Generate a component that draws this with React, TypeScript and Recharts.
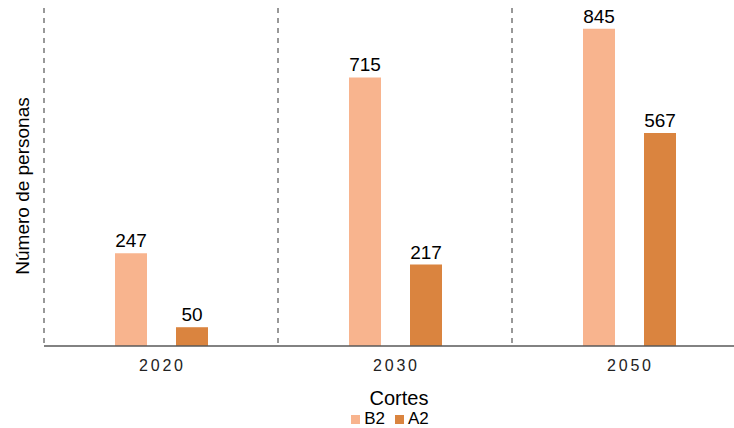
import React from 'react';
import { BarChart, Bar, XAxis, YAxis, CartesianGrid, Legend, LabelList } from 'recharts';

const categories = ['2020', '2030', '2050'];
const b2Values = [247, 715, 845];
const a2Values = [50, 217, 567];
const seriesNames = ['B2', 'A2'];
const seriesColors = ['#F8B48E', '#DA843F'];
const yDomain = [0, 900];
const xTitle = 'Cortes';
const yTitle = 'Número de personas';

const data = categories.map((c, i) => ({ corte: c, B2: b2Values[i], A2: a2Values[i] }));

const FONT = "'Liberation Sans', Arial, sans-serif";

const CategoryTick = (props: any) => {
  const { x, y, payload } = props;
  return (
    <text x={x + 1.4} y={y + 17} textAnchor="middle" fill="#222" fontSize={16} fontFamily={FONT} letterSpacing={2.8}>
      {payload.value}
    </text>
  );
};

const YTitle = (props: any) => {
  const vb = props.viewBox || {};
  const cx = (vb.x || 0) + 28.5;
  const cy = (vb.y || 0) + (vb.height || 0) / 2 + 9;
  return (
    <text x={cx} y={cy} transform={`rotate(-90 ${cx} ${cy})`} textAnchor="middle" fill="#000" fontSize={19} fontFamily={FONT}>
      {yTitle}
    </text>
  );
};

export default function App() {
  return (
    <div style={{ position: 'absolute', left: 0, top: 0, width: 734, height: 428, overflow: 'hidden', background: '#fff', fontFamily: FONT }}>
      <BarChart
        width={760}
        height={428}
        data={data}
        margin={{ top: 8, right: 14, left: 0, bottom: 0 }}
        barSize={32}
        barGap={29}
        barCategoryGap={0}
      >
        <CartesianGrid
          horizontal={false}
          stroke="#333"
          strokeDasharray="5 5"
          verticalCoordinatesGenerator={({ offset }: any) =>
            categories.map((_, i) => offset.left + (i * offset.width) / categories.length)
          }
        />
        <YAxis
          width={44}
          domain={yDomain}
          tick={false}
          axisLine={false}
          tickLine={false}
          label={{ content: YTitle }}
        />
        <XAxis
          dataKey="corte"
          height={62}
          axisLine={{ stroke: '#595959', strokeWidth: 1.5 }}
          tickLine={false}
          tick={<CategoryTick />}
          interval={0}
          label={{ value: xTitle, position: 'insideBottom', offset: 3, dx: 4, fill: '#000', fontSize: 20, fontFamily: FONT }}
        />
        <Legend
          verticalAlign="bottom"
          height={20}
          iconType="square"
          iconSize={9}
          itemSorter={(item: any) => seriesNames.indexOf(item.value)}
          wrapperStyle={{ fontSize: 17, fontFamily: FONT, left: 44, width: 702, bottom: 0, lineHeight: '17px', paddingTop: 2, boxSizing: 'border-box' }}
          formatter={(value: string) => <span style={{ color: '#000', fontSize: 17 }}>{value}</span>}
        />
        {seriesNames.map((name, i) => (
          <Bar key={name} dataKey={name} name={name} fill={seriesColors[i]} isAnimationActive={false}>
            <LabelList dataKey={name} position="top" offset={6} fill="#000" fontSize={19} fontFamily={FONT} />
          </Bar>
        ))}
      </BarChart>
    </div>
  );
}
